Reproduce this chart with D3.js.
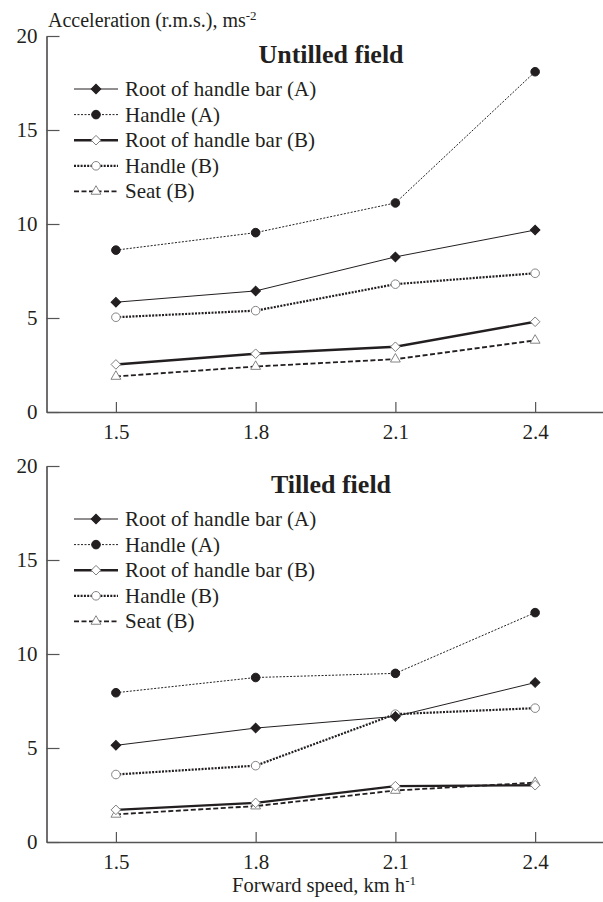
<!DOCTYPE html>
<html>
<head>
<meta charset="utf-8">
<script src="https://cdn.jsdelivr.net/npm/d3@7"></script>
<style>
  body { margin: 0; background: #fff; }
  svg text { font-family: "Liberation Serif", "Times New Roman", "DejaVu Serif", serif; fill: #231f20; }
</style>
</head>
<body>
<div></div>
<script>
// ============ data ============
var speeds = [1.5, 1.8, 2.1, 2.4];
var xTicks = ["1.5", "1.8", "2.1", "2.4"];
var yTicks = [0, 5, 10, 15, 20];
var seriesNames = ["Root of handle bar (A)", "Handle (A)", "Root of handle bar (B)", "Handle (B)", "Seat (B)"];
var panelTitles = ["Untilled field", "Tilled field"];

// Untilled field
var untilledRootA = [5.84, 6.44, 8.25, 9.68];
var untilledHandleA = [8.61, 9.54, 11.12, 18.1];
var untilledRootB = [2.53, 3.1, 3.47, 4.8];
var untilledHandleB = [5.04, 5.39, 6.8, 7.38];
var untilledSeatB = [1.89, 2.42, 2.81, 3.81];

// Tilled field
var tilledRootA = [5.14, 6.06, 6.68, 8.48];
var tilledHandleA = [7.94, 8.75, 8.97, 12.2];
var tilledRootB = [1.71, 2.08, 2.97, 3.02];
var tilledHandleB = [3.59, 4.06, 6.8, 7.12];
var tilledSeatB = [1.47, 1.91, 2.74, 3.16];

var panels = [
  [untilledRootA, untilledHandleA, untilledRootB, untilledHandleB, untilledSeatB],
  [tilledRootA, tilledHandleA, tilledRootB, tilledHandleB, tilledSeatB]
];

// line + marker look for each series (same order as seriesNames)
var styles = [
  { width: 1, dash: null, marker: "diamond", filled: true },
  { width: 1, dash: "2,1.5", marker: "circle", filled: true },
  { width: 2.4, dash: null, marker: "diamond", filled: false },
  { width: 2.2, dash: "2,1.3", marker: "circle", filled: false },
  { width: 1.8, dash: "5,2.5", marker: "triangle", filled: false }
];

var width = 603;
var height = 902;

var svg = d3.select("body").select("div")
  .append("svg")
  .attr("width", width)
  .attr("height", height);

var xScale = d3.scaleLinear()
  .domain([1.351, 2.55])
  .range([46.5, 605]);

// top and bottom of each panel in pixels
var panelBox = [
  { top: 36, bottom: 412 },
  { top: 466, bottom: 842 }
];

function markerPath(kind) {
  if (kind === "diamond") return d3.symbol().type(d3.symbolSquare).size(46)();
  if (kind === "circle") return d3.symbol().type(d3.symbolCircle).size(58)();
  return d3.symbol().type(d3.symbolTriangle).size(42)();
}

function markerRotate(kind) {
  return kind === "diamond" ? " rotate(45)" : "";
}

panels.forEach(function(panelData, p) {
  var box = panelBox[p];
  var yScale = d3.scaleLinear().domain([0, 20]).range([box.bottom, box.top]);
  var g = svg.append("g");

  // x axis
  var xAxis = d3.axisBottom(xScale)
    .tickValues(speeds)
    .tickFormat(function(d, i) { return xTicks[i]; })
    .tickSizeInner(-10)
    .tickSizeOuter(0)
    .tickPadding(12);
  var gx = g.append("g")
    .attr("transform", "translate(0," + box.bottom + ")")
    .call(xAxis);
  gx.attr("font-family", null);
  gx.select(".domain").attr("stroke", "#555").attr("stroke-width", 1.3);
  gx.selectAll(".tick line").attr("stroke", "#555").attr("stroke-width", 1.2);
  gx.selectAll(".tick text").style("font-size", "21px").attr("fill", "#231f20");

  // y axis
  var yAxis = d3.axisLeft(yScale)
    .tickValues(yTicks)
    .tickSizeInner(-13)
    .tickSizeOuter(0)
    .tickPadding(9);
  var gy = g.append("g")
    .attr("transform", "translate(" + 46.5 + ",0)")
    .call(yAxis);
  gy.attr("font-family", null);
  gy.select(".domain").attr("stroke", "#231f20").attr("stroke-width", 1.3);
  gy.selectAll(".tick line").attr("stroke", "#555").attr("stroke-width", 1.2);
  gy.selectAll(".tick text").style("font-size", "21px").attr("fill", "#231f20");

  // title
  g.append("text")
    .attr("x", 331)
    .attr("y", box.top + 27)
    .attr("text-anchor", "middle")
    .style("font-size", "26px")
    .style("font-weight", "bold")
    .text(panelTitles[p]);

  var line = d3.line()
    .x(function(d, i) { return xScale(speeds[i]); })
    .y(function(d) { return yScale(d); });

  // draw in an order so the thin black lines stay on top
  var order = [4, 2, 3, 1, 0];
  order.forEach(function(s) {
    var st = styles[s];
    g.append("path")
      .attr("d", line(panelData[s]))
      .attr("fill", "none")
      .attr("stroke", "#231f20")
      .attr("stroke-width", st.width)
      .attr("stroke-dasharray", st.dash);

    g.append("g")
      .selectAll("path")
      .data(panelData[s])
      .enter()
      .append("path")
      .attr("d", markerPath(st.marker))
      .attr("transform", function(d, i) {
        return "translate(" + xScale(speeds[i]) + "," + yScale(d) + ")" + markerRotate(st.marker);
      })
      .attr("fill", st.filled ? "#231f20" : "#fff")
      .attr("stroke", st.filled ? "#231f20" : "#777")
      .attr("stroke-width", st.filled ? 1 : 0.9);
  });

  // legend
  var legend = g.append("g")
    .attr("transform", "translate(74," + (box.top + 53) + ")");
  seriesNames.forEach(function(name, s) {
    var st = styles[s];
    var row = legend.append("g").attr("transform", "translate(0," + (s * 25.6) + ")");
    row.append("line")
      .attr("x1", 0).attr("x2", 44)
      .attr("y1", 0).attr("y2", 0)
      .attr("stroke", "#231f20")
      .attr("stroke-width", st.width)
      .attr("stroke-dasharray", st.dash);
    row.append("path")
      .attr("d", markerPath(st.marker))
      .attr("transform", "translate(22,0)" + markerRotate(st.marker))
      .attr("fill", st.filled ? "#231f20" : "#fff")
      .attr("stroke", st.filled ? "#231f20" : "#777")
      .attr("stroke-width", st.filled ? 1 : 0.9);
    row.append("text")
      .attr("x", 51)
      .attr("y", 7)
      .style("font-size", "21px")
      .text(name);
  });
});

// axis titles
var yTitle = svg.append("text")
  .attr("x", 48)
  .attr("y", 27)
  .style("font-size", "20px");
yTitle.append("tspan").text("Acceleration (r.m.s.), ms");
yTitle.append("tspan").attr("dy", -7).style("font-size", "13px").text("-2");

var xTitle = svg.append("text")
  .attr("x", 324)
  .attr("y", 892)
  .attr("text-anchor", "middle")
  .style("font-size", "20.5px");
xTitle.append("tspan").text("Forward speed, km h");
xTitle.append("tspan").attr("dy", -7).style("font-size", "13px").text("-1");
</script>
</body>
</html>
